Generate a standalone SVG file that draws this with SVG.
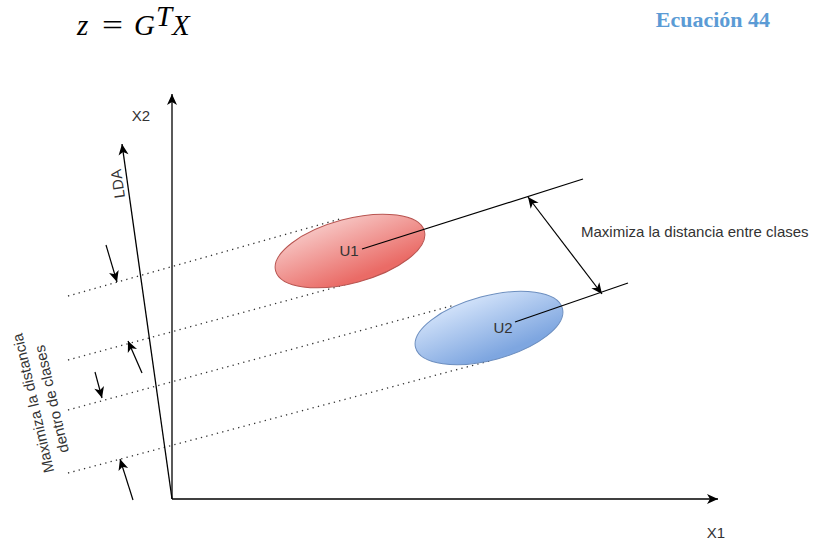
<svg xmlns="http://www.w3.org/2000/svg" width="815" height="542" viewBox="0 0 815 542">
<style>
.ax{stroke:#000;stroke-width:1.3;fill:none}
.ln{stroke:#000;stroke-width:1.2;fill:none}
.dot{stroke:#333;stroke-width:1.3;fill:none;stroke-dasharray:1.3 4.2}
.lbl{font-family:"Liberation Sans",Arial,sans-serif;font-size:15px;fill:#333}
.eq{font-family:"Liberation Serif",serif;font-size:29px;fill:#000}
</style>
<defs>
<marker id="ah" markerUnits="userSpaceOnUse" markerWidth="14" markerHeight="12" viewBox="0 0 14 12" refX="12" refY="6" orient="auto-start-reverse">
<path d="M1,1 L12,6 L1,11 L4,6 z" fill="#000"/>
</marker>
<linearGradient id="gr" x1="0" y1="0" x2="0.3" y2="1">
<stop offset="0" stop-color="#f8cecc"/>
<stop offset="1" stop-color="#ea6b66"/>
</linearGradient>
<linearGradient id="gb" x1="0" y1="0" x2="0.3" y2="1">
<stop offset="0" stop-color="#dae8fc"/>
<stop offset="1" stop-color="#7ea6e0"/>
</linearGradient>
</defs>

<g id="equation">
<text class="eq" x="77" y="35" font-style="italic">z</text>
<text class="eq" x="102" y="35" textLength="21" lengthAdjust="spacingAndGlyphs">=</text>
<text class="eq" x="134" y="35" font-style="italic">G</text>
<text class="eq" x="156" y="26" font-style="italic" font-size="15">T</text>
<text class="eq" x="172" y="35" font-style="italic">X</text>
</g>
<g id="caption">
<text x="770" y="27" text-anchor="end" font-family="'Liberation Serif',serif" font-weight="bold" font-size="22" fill="#5b9bd5">Ecuación 44</text>
</g>

<g id="connectors">
<line class="dot" x1="68" y1="296" x2="340" y2="219"/>
<line class="dot" x1="68" y1="360" x2="355" y2="282"/>
<line class="dot" x1="68" y1="410" x2="455" y2="305"/>
<line class="dot" x1="68" y1="473" x2="493" y2="360"/>
</g>

<g id="u1">
<ellipse cx="350" cy="251" rx="77" ry="32" transform="rotate(-15 350 251)" fill="url(#gr)" stroke="#b85450" stroke-width="1"/>
<text class="lbl" x="349" y="256" text-anchor="middle">U1</text>
</g>
<g id="u2">
<ellipse cx="489" cy="328" rx="76" ry="32" transform="rotate(-15 489 328)" fill="url(#gb)" stroke="#6c8ebf" stroke-width="1"/>
<text class="lbl" x="503" y="333" text-anchor="middle">U2</text>
</g>

<g id="axes">
<line class="ax" x1="172" y1="499" x2="172" y2="94" marker-end="url(#ah)"/>
<line class="ax" x1="172" y1="499" x2="718" y2="499" marker-end="url(#ah)"/>
<line class="ax" x1="172" y1="499" x2="122" y2="144" marker-end="url(#ah)"/>
<text class="lbl" x="141" y="121" text-anchor="middle">X2</text>
<text class="lbl" x="716" y="538" text-anchor="middle">X1</text>
<text class="lbl" transform="translate(123 183) rotate(-98)" text-anchor="middle">LDA</text>
</g>

<g id="projections">
<line class="ln" x1="362" y1="249" x2="583" y2="179"/>
<line class="ln" x1="515" y1="322" x2="628" y2="283"/>
<line class="ln" x1="528" y1="197" x2="602" y2="294" marker-start="url(#ah)" marker-end="url(#ah)"/>
<text class="lbl" x="581" y="237">Maximiza la distancia entre clases</text>
</g>

<g id="within">
<line class="ln" x1="106" y1="245" x2="117" y2="282" marker-end="url(#ah)"/>
<line class="ln" x1="142" y1="373" x2="128" y2="341" marker-end="url(#ah)"/>
<line class="ln" x1="95" y1="372" x2="102" y2="398" marker-end="url(#ah)"/>
<line class="ln" x1="133" y1="500" x2="120" y2="459" marker-end="url(#ah)"/>
<text class="lbl" transform="translate(43 401) rotate(-103)" text-anchor="middle"><tspan x="0" y="-5">Maximiza la distancia</tspan><tspan x="0" y="14">dentro de clases</tspan></text>
</g>
</svg>
